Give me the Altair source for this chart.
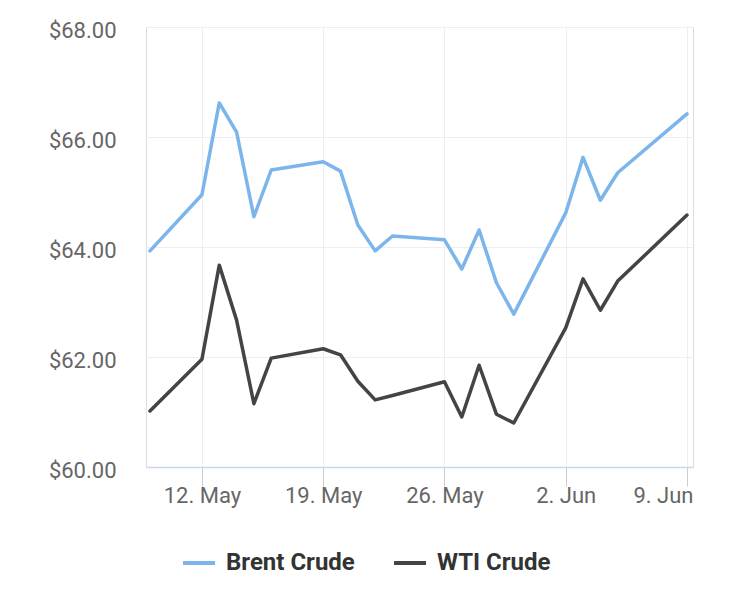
import altair as alt
import pandas as pd

dates = ["2025-05-09", "2025-05-12", "2025-05-13", "2025-05-14", "2025-05-15", "2025-05-16",
         "2025-05-19", "2025-05-20", "2025-05-21", "2025-05-22", "2025-05-23",
         "2025-05-26", "2025-05-27", "2025-05-28", "2025-05-29", "2025-05-30",
         "2025-06-02", "2025-06-03", "2025-06-04", "2025-06-05", "2025-06-09"]
brent = [63.93, 64.95, 66.62, 66.09, 64.55, 65.40,
         65.55, 65.38, 64.40, 63.93, 64.20,
         64.13, 63.60, 64.31, 63.35, 62.78,
         64.62, 65.63, 64.85, 65.35, 66.42]
wti = [61.02, 61.96, 63.67, 62.67, 61.15, 61.98,
       62.15, 62.04, 61.56, 61.22, 61.30,
       61.55, 60.91, 61.85, 60.96, 60.80,
       62.53, 63.42, 62.85, 63.38, 64.58]
series_names = ["Brent Crude", "WTI Crude"]
series_colors = ["#7cb5ec", "#434348"]
y_ticks = [60, 62, 64, 66, 68]
x_tick_days = [(5, 12), (5, 19), (5, 26), (6, 2), (6, 9)]

rows = []
for name, vals in zip(series_names, [brent, wti]):
    for d, v in zip(dates, vals):
        rows.append({"date": d + "T00:00:00", "series": name, "price": v})
df = pd.DataFrame(rows)

x_values = [alt.DateTime(year=2025, month=m, date=d) for m, d in x_tick_days]

chart = alt.Chart(df).mark_line(strokeWidth=3.5, strokeJoin="round", strokeCap="round").encode(
    x=alt.X("date:T",
            scale=alt.Scale(domain=[alt.DateTime(year=2025, month=5, date=8, hours=18, minutes=30),
                                    alt.DateTime(year=2025, month=6, date=9, hours=8, minutes=20)]),
            axis=alt.Axis(title=None, values=x_values, format="%-d. %b", tickSize=19,
                          tickColor="#cccccc", domainColor="#ccd6eb", domainWidth=1.5,
                          gridColor="#eeeeee", labelFontSize=22, labelColor="#666666",
                          labelPadding=-1, labelFont="Roboto", labelFlush=10,
                          labelFlushOffset=6)),
    y=alt.Y("price:Q",
            scale=alt.Scale(domain=[60, 68], nice=False, zero=False),
            axis=alt.Axis(title=None, values=y_ticks, format="$.2f", tickSize=0,
                          domain=False, gridColor="#eeeeee", labelFontSize=22,
                          labelColor="#666666", labelPadding=30, labelFont="Roboto",
                          labelOffset=3)),
    color=alt.Color("series:N",
                    scale=alt.Scale(domain=series_names, range=series_colors),
                    legend=alt.Legend(title=None, orient="none", direction="horizontal",
                                      legendX=35, legendY=518, symbolType="stroke",
                                      symbolSize=1024, symbolStrokeWidth=4,
                                      labelFontSize=24, labelFontWeight="bold",
                                      labelColor="#333333", labelFont="Roboto",
                                      labelOffset=9, columnPadding=31)),
).properties(
    width=547, height=440,
    autosize=alt.AutoSizeParams(type="none"),
    padding={"left": 138, "top": 19, "right": 40, "bottom": 117},
).configure_view(stroke=None).configure(font="Roboto")

chart.save("out.html", embed_options={"renderer": "svg", "actions": False})
